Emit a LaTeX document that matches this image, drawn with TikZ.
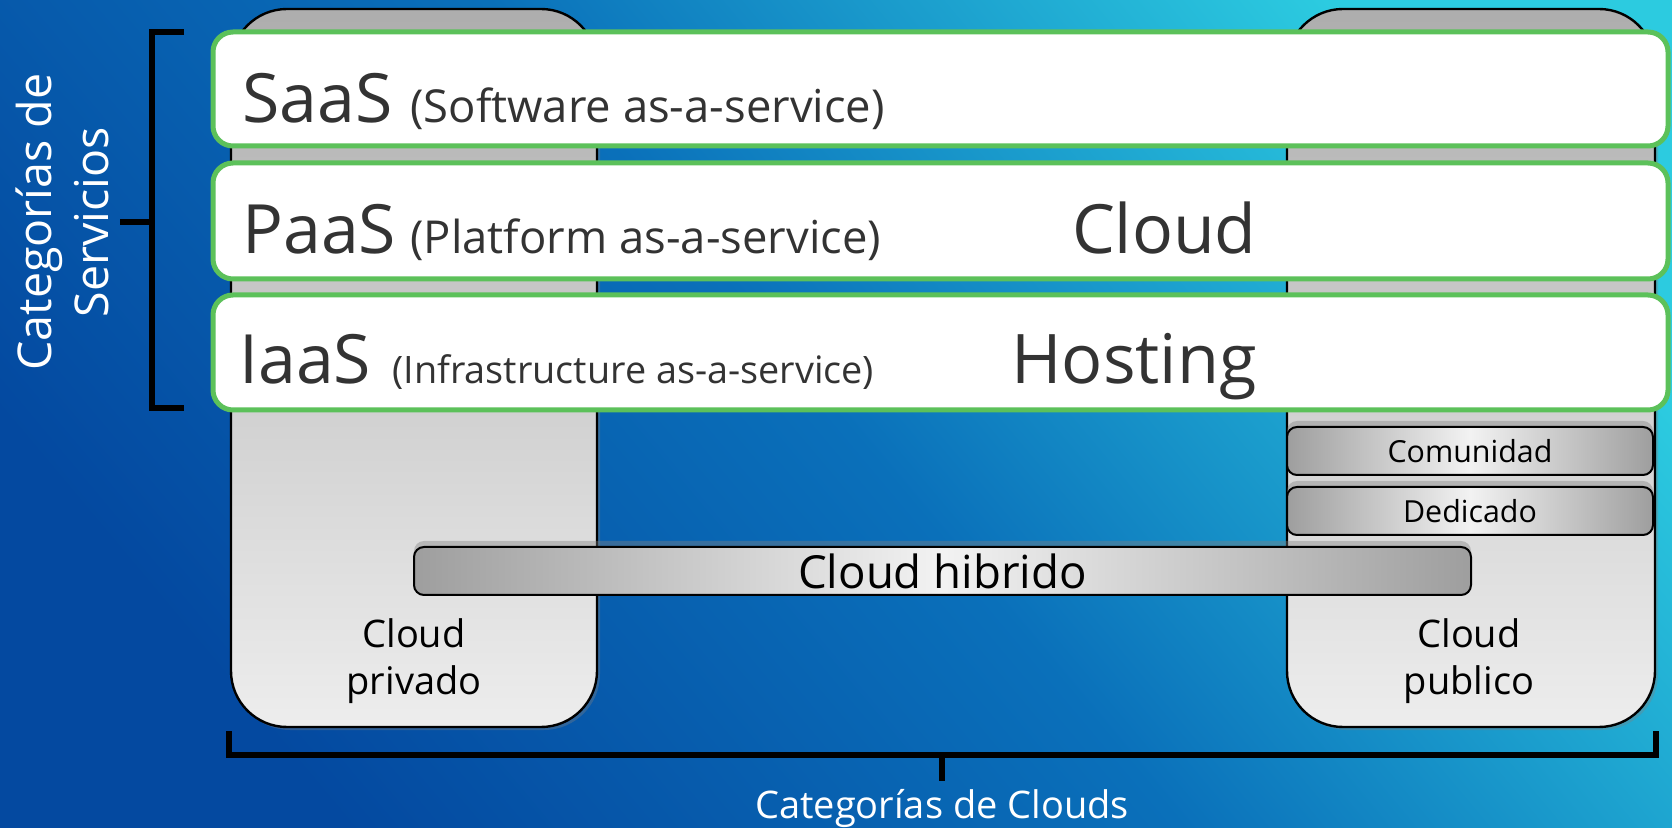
\documentclass[tikz,border=0pt]{standalone}
\usepackage{fontspec}
\setmainfont{Open Sans}
\usetikzlibrary{fit,shadows}

\definecolor{bgdark}{HTML}{0449A0}
\definecolor{bgmid}{HTML}{0A70BA}
\definecolor{bglight}{HTML}{2CCBE0}
\definecolor{svcgreen}{HTML}{5CC15A}
\definecolor{txtgray}{HTML}{333333}

\begin{document}
\begin{tikzpicture}[x=0.5pt,y=-0.5pt,
	column/.style={draw=black, line width=1.2pt, rounded corners=28pt, inner sep=0pt,
		top color=black!32, bottom color=black!7,
		drop shadow={opacity=0.35, shadow xshift=1.5pt, shadow yshift=-1.5pt}},
	bar/.style={draw=black, line width=1pt, rounded corners=5pt, inner sep=0pt,
		left color=black!38, right color=black!38, middle color=black!5,
		drop shadow={opacity=0.4, shadow xshift=0pt, shadow yshift=3pt}},
	svc/.style={draw=svcgreen, line width=2.5pt, fill=white, rounded corners=10pt, inner sep=0pt},
	txt/.style={inner sep=0pt, text=txtgray},
	brace/.style={line width=3pt, draw=black}]
	\useasboundingbox (0,0) rectangle (1672,828);
	\shade[bottom color=bgdark, top color=bglight, middle color=bgmid, shading angle=-50] (0,0) rectangle (1672,828);
	
	% clouds
	\node[column, fit={(231,9) (597,727)}] (priv) {};
	\node[column, fit={(1287,9) (1655,727)}] (pub) {};
	\node[txt, text=black, align=center, font=\fontsize{19}{23.5}\selectfont] (priv-t) at (414,661) {Cloud\\privado};
	\node[txt, text=black, align=center, font=\fontsize{19}{23.5}\selectfont] (pub-t) at (1469,661) {Cloud\\publico};
	
	% service layers
	\node[svc, fit={(213,32) (1668,146)}] (saas) {};
	\node[svc, fit={(213,163) (1668,279)}] (paas) {};
	\node[svc, fit={(213,295) (1668,410)}] (iaas) {};
	
	\node[txt, anchor=base west, font=\fontsize{34}{40}\selectfont] (saas-t) at (242,123) {SaaS};
	\node[txt, anchor=base west, font=\fontsize{22.7}{27}\selectfont] (saas-d) at (410,123) {(Software as-a-service)};
	\node[txt, anchor=base west, font=\fontsize{34}{40}\selectfont] (paas-t) at (242,254) {PaaS};
	\node[txt, anchor=base west, font=\fontsize{22.7}{27}\selectfont] (paas-d) at (410,254) {(Platform as-a-service)};
	\node[txt, anchor=base east, font=\fontsize{34}{40}\selectfont] (paas-c) at (1257,254) {Cloud};
	\node[txt, anchor=base west, font=\fontsize{34}{40}\selectfont] (iaas-t) at (239,384) {IaaS};
	\node[txt, anchor=base west, font=\fontsize{18.9}{22}\selectfont] (iaas-d) at (392,384) {(Infrastructure as-a-service)};
	\node[txt, anchor=base east, font=\fontsize{34.2}{40}\selectfont] (iaas-h) at (1257,384) {Hosting};
	
	% deployment bars
	\node[bar, fit={(1287,427) (1653,475)}] (comun) {};
	\node[bar, fit={(1287,487) (1653,535)}] (dedic) {};
	\node[bar, fit={(414,547) (1471,595)}] (hibr) {};
	\node[txt, text=black, font=\fontsize{15.2}{18}\selectfont] (comun-t) at (comun) {Comunidad};
	\node[txt, text=black, font=\fontsize{15.2}{18}\selectfont] (dedic-t) at (dedic) {Dedicado};
	\node[txt, text=black, font=\fontsize{22.8}{27}\selectfont] (hibr-t) at (hibr) {Cloud hibrido};
	
	% brackets
	\coordinate (sv-a) at (184,32);
	\coordinate (sv-b) at (184,408);
	\coordinate (sv-m) at (120,222);
	\draw[brace] (sv-a) -- (152,32) -- (152,408) -- (sv-b);
	\draw[brace] (152,222) -- (sv-m);
	\node[txt, text=white, rotate=90, align=center, font=\fontsize{23.3}{28.5}\selectfont] (sv-lbl) at (62,222) {Categorías de\\Servicios};
	
	\coordinate (cl-a) at (229,731);
	\coordinate (cl-b) at (1656,731);
	\coordinate (cl-m) at (942,781);
	\draw[brace] (cl-a) -- (229,755) -- (1656,755) -- (cl-b);
	\draw[brace] (942,755) -- (cl-m);
	\node[txt, text=white, font=\fontsize{19}{23}\selectfont] (cl-lbl) at (942,809) {Categorías de Clouds};
\end{tikzpicture}
\end{document}
